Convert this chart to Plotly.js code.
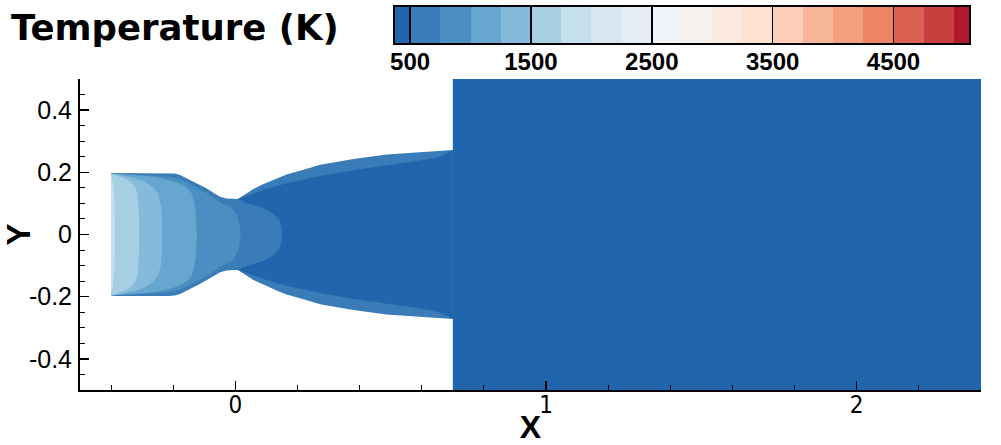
<!DOCTYPE html>
<html>
<head>
<meta charset="utf-8">
<script src="https://cdn.plot.ly/plotly-3.0.1.min.js"></script>
<style>html,body{margin:0;padding:0;background:#fff;}#chart{width:1001px;height:445px;}</style>
</head>
<body>
<div id="chart"></div>
<script>
// ---- colour levels (K) and band colours ----
const levelEdges = [375, 500, 750, 1000, 1250, 1500, 1750, 2000, 2250, 2500, 2750,
                    3000, 3250, 3500, 3750, 4000, 4250, 4500, 4750, 5000, 5125];
const bandColors = ['#2166ac','#3a7cb8','#4b8fc2','#66a6cf','#86badb','#a7cfe4','#c6dfec',
                    '#d7e7f1','#e6eef5','#f0f3f7','#f6f1ee','#fbe9df','#fde1d2','#fccdb7',
                    '#f7b699','#f3a07e','#ec8563','#da6150','#c6403f','#b2182b'];
const cbTickVals = [500, 1500, 2500, 3500, 4500];
const cbTickText = ['500', '1500', '2500', '3500', '4500'];

// ---- nozzle wall (upper half, mirrored about Y=0) ----
const wallX = [-0.400, -0.215, -0.195, -0.178, -0.156, -0.135, -0.114, -0.092, -0.071, -0.049,
               -0.028, -0.006, 0.008, 0.031, 0.058, 0.085, 0.112, 0.140, 0.165, 0.219,
               0.273, 0.330, 0.380, 0.487, 0.594, 0.650, 0.700];
const wallY = [0.198, 0.198, 0.196, 0.191, 0.181, 0.170, 0.159, 0.148, 0.134, 0.121,
               0.116, 0.114, 0.114, 0.129, 0.146, 0.160, 0.171, 0.183, 0.193, 0.208,
               0.224, 0.234, 0.243, 0.257, 0.265, 0.268, 0.272];

// exhaust region (T < 500 K)
const exhaustX = [0.700, 2.400];
const exhaustY = [-0.500, 0.500];

// cold core in divergent section (T < 500 K)
const coreX = [0.150, 0.148, 0.142, 0.128, 0.110, 0.079, 0.040, 0.008, 0.058, 0.112,
               0.165, 0.219, 0.273, 0.380, 0.487, 0.594, 0.640, 0.670, 0.690, 0.700];
const coreY = [0.000, 0.025, 0.045, 0.063, 0.075, 0.089, 0.100, 0.114, 0.132, 0.150,
               0.165, 0.177, 0.188, 0.207, 0.223, 0.237, 0.245, 0.255, 0.265, 0.272];

// T >= 750 K
const t750X = [-0.400, -0.330, -0.260, -0.215, -0.178, -0.156, -0.135, -0.114, -0.092, -0.071,
               -0.049, -0.030, -0.017, -0.005, 0.004, 0.013, 0.017];
const t750Y = [0.196, 0.192, 0.189, 0.186, 0.178, 0.168, 0.157, 0.145, 0.134, 0.119,
               0.103, 0.094, 0.089, 0.078, 0.063, 0.035, 0.000];
// T >= 1000 K
const t1000X = [-0.400, -0.340, -0.297, -0.250, -0.221, -0.189, -0.167, -0.150, -0.140, -0.132, -0.127, -0.124];
const t1000Y = [0.196, 0.192, 0.189, 0.183, 0.177, 0.168, 0.158, 0.145, 0.130, 0.105, 0.070, 0.000];
// T >= 1250 K
const t1250X = [-0.400, -0.371, -0.340, -0.317, -0.290, -0.275, -0.260, -0.248, -0.240, -0.237, -0.235];
const t1250Y = [0.196, 0.191, 0.186, 0.181, 0.170, 0.159, 0.146, 0.130, 0.100, 0.070, 0.000];
// T >= 1500 K
const t1500X = [-0.400, -0.385, -0.371, -0.355, -0.345, -0.332, -0.323, -0.316, -0.313, -0.310, -0.309];
const t1500Y = [0.196, 0.192, 0.186, 0.180, 0.175, 0.165, 0.154, 0.135, 0.111, 0.060, 0.000];
// T >= 1750 K
const t1750X = [-0.400, -0.396, -0.392, -0.389, -0.388, -0.387];
const t1750Y = [0.190, 0.175, 0.150, 0.110, 0.060, 0.000];

// axis ticks
const yTickVals = [-0.4, -0.2, 0, 0.2, 0.4];
const yTickText = ['-0.4', '-0.2', '0', '0.2', '0.4'];

function mirror(xs, ys) {
  return {
    x: xs.concat(xs.slice().reverse()),
    y: ys.concat(ys.slice().reverse().map(v => -v))
  };
}
function band(xs, ys, color) {
  const p = mirror(xs, ys);
  return {type: 'scatter', mode: 'lines', x: p.x, y: p.y, fill: 'toself',
          fillcolor: color, line: {width: 0, color: color}, hoverinfo: 'skip',
          showlegend: false, xaxis: 'x', yaxis: 'y'};
}

const traces = [];
// exhaust block
traces.push({type: 'scatter', mode: 'lines',
  x: [exhaustX[0], exhaustX[1], exhaustX[1], exhaustX[0]],
  y: [exhaustY[0], exhaustY[0], exhaustY[1], exhaustY[1]],
  fill: 'toself', fillcolor: bandColors[0], line: {width: 0, color: bandColors[0]},
  hoverinfo: 'skip', showlegend: false});
traces.push(band(wallX, wallY, bandColors[1]));
traces.push(band(coreX, coreY, bandColors[0]));
traces.push(band(t750X, t750Y, bandColors[2]));
traces.push(band(t1000X, t1000Y, bandColors[3]));
traces.push(band(t1250X, t1250Y, bandColors[4]));
traces.push(band(t1500X, t1500Y, bandColors[5]));
traces.push(band(t1750X, t1750Y, bandColors[6]));

// colour bar as a heatmap strip
const nb = bandColors.length;
const cscale = [];
bandColors.forEach((c, i) => { cscale.push([i / nb, c]); cscale.push([(i + 1) / nb, c]); });
traces.push({type: 'heatmap', x: levelEdges, y: [0, 1],
  z: [bandColors.map((c, i) => i + 0.5)], zmin: 0, zmax: nb,
  colorscale: cscale, showscale: false, hoverinfo: 'skip',
  xaxis: 'x2', yaxis: 'y2'});

const layout = {
  width: 1001, height: 445,
  margin: {l: 80, r: 20, t: 0, b: 55, pad: 0},
  paper_bgcolor: '#fff', plot_bgcolor: '#fff',
  showlegend: false,
  title: {text: 'Temperature (K)', font: {family: 'DejaVu Sans', size: 35.5, weight: 'bold', color: '#000'},
          x: 11 / 1001, xref: 'container', xanchor: 'left', y: 1 - 28 / 445, yref: 'container', yanchor: 'middle'},
  xaxis: {domain: [0, 1], range: [-0.5, 2.4], showgrid: false, zeroline: false,
          showline: true, linecolor: '#000', linewidth: 2,
          ticks: 'inside', ticklen: 9, tickwidth: 1.5, tickcolor: '#000',
          tickmode: 'linear', tick0: 0, dtick: 1,
          minor: {ticks: 'inside', ticklen: 5, tickwidth: 1, tickcolor: '#000', tickmode: 'linear', tick0: 0, dtick: 0.2},
          tickfont: {family: 'DejaVu Sans Condensed, Liberation Sans Narrow, Liberation Sans', size: 24, color: '#000'},
          ticklabelstandoff: -8,
          title: {text: 'X', font: {family: 'Liberation Sans', size: 32, weight: 'bold', color: '#000'}, standoff: 6}},
  yaxis: {domain: [0, 0.7974], range: [-0.5, 0.5], showgrid: false, zeroline: false,
          showline: true, linecolor: '#000', linewidth: 2,
          ticks: 'inside', ticklen: 9, tickwidth: 1.5, tickcolor: '#000',
          tickmode: 'array', tickvals: yTickVals, ticktext: yTickText,
          minor: {ticks: 'inside', ticklen: 5, tickwidth: 1, tickcolor: '#000', tickmode: 'linear', tick0: 0, dtick: 0.05},
          tickfont: {family: 'Liberation Sans', size: 25, color: '#000'},
          ticklabelstandoff: 1,
          title: {text: 'Y', font: {family: 'Liberation Sans', size: 33, weight: 'bold', color: '#000'}, standoff: 2}},
  xaxis2: {domain: [0.3496, 0.9867], anchor: 'y2', range: [375, 5125], showgrid: false, zeroline: false,
           showline: true, mirror: true, linecolor: '#000', linewidth: 2,
           ticks: 'inside', ticklen: 36, tickwidth: 1.5, tickcolor: '#000',
           tickmode: 'array', tickvals: cbTickVals, ticktext: cbTickText,
           tickfont: {family: 'Liberation Sans', size: 24, weight: 'bold', color: '#000'},
           ticklabelstandoff: -4, fixedrange: true},
  yaxis2: {domain: [0.8897, 0.9821], anchor: 'x2', range: [0, 1], showgrid: false, zeroline: false,
           showline: true, mirror: true, linecolor: '#000', linewidth: 2,
           ticks: '', showticklabels: false, fixedrange: true}
};

Plotly.newPlot('chart', traces, layout, {displayModeBar: false, staticPlot: true});
</script>
</body>
</html>
